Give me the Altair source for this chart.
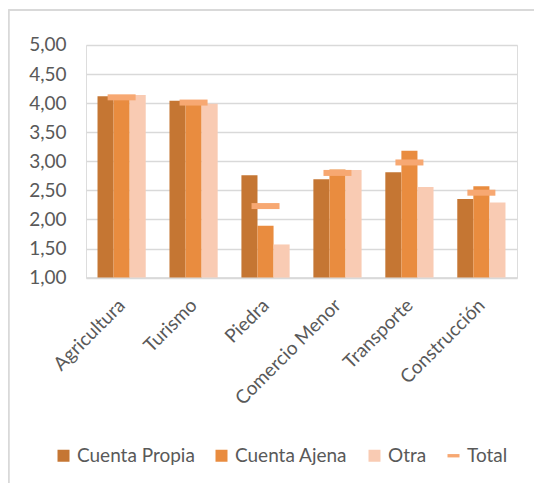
import altair as alt
import pandas as pd

categories = ["Agricultura", "Turismo", "Piedra", "Comercio Menor", "Transporte", "Construcción"]
series = ["Cuenta Propia", "Cuenta Ajena", "Otra"]
cuenta_propia = [4.12, 4.04, 2.76, 2.69, 2.81, 2.35]
cuenta_ajena = [4.10, 4.02, 1.89, 2.86, 3.18, 2.57]
otra = [4.14, 3.99, 1.57, 2.85, 2.56, 2.29]
total = [4.10, 4.01, 2.23, 2.80, 2.98, 2.46]
y_ticks = [1.0, 1.5, 2.0, 2.5, 3.0, 3.5, 4.0, 4.5, 5.0]
colors = ["#C57633", "#E98C3F", "#F9CBB3", "#F7A872"]

rows = []
for i, c in enumerate(categories):
    for s, vals in zip(series, [cuenta_propia, cuenta_ajena, otra]):
        rows.append({"cat": c, "serie": s, "valor": vals[i]})
bars_df = pd.DataFrame(rows)
tot_df = pd.DataFrame({"cat": categories, "serie": ["Total"] * len(categories), "valor": total})

FONT = "Lato"
LABEL = "#595959"
FS = 19
all_series = series + ["Total"]

color_scale = alt.Scale(domain=all_series, range=colors)
shape_scale = alt.Scale(domain=all_series,
                        range=["square", "square", "square", "M-1,-0.28L1,-0.28L1,0.28L-1,0.28Z"])
legend = alt.Legend(
    orient="none", direction="horizontal", title=None, legendX=-32, legendY=401,
    symbolSize=144, symbolStrokeWidth=0, labelFontSize=FS, symbolOpacity=1,
    labelFont=FONT, labelColor=LABEL, columnPadding=17, labelOffset=4, padding=0,
)

x_axis = alt.Axis(labelAngle=-45, labelFontSize=FS, labelFont=FONT, labelColor=LABEL,
                  ticks=False, domainColor="#D9D9D9", domainWidth=1.5, labelPadding=18,
                  labelOffset=-6)
y_axis = alt.Axis(values=y_ticks, labelOverlap=False,
                  labelExpr="replace(format(datum.value, '.2f'), '.', ',')",
                  labelFontSize=FS, labelFont=FONT, labelColor=LABEL, ticks=False,
                  domain=False, gridColor="#D9D9D9", gridWidth=1.5, labelPadding=20)
y_scale = alt.Scale(domain=[1, 5], zero=False, nice=False)
x_scale = alt.Scale(paddingInner=0.33, paddingOuter=0.16)

bars = alt.Chart(bars_df).mark_bar().encode(
    x=alt.X("cat:N", sort=categories, title=None, scale=x_scale, axis=x_axis),
    xOffset=alt.XOffset("serie:N", sort=series, scale=alt.Scale(paddingInner=0, paddingOuter=0)),
    y=alt.Y("valor:Q", scale=y_scale, title=None, axis=y_axis),
    y2=alt.datum(1),
    color=alt.Color("serie:N", scale=color_scale, legend=legend),
)

ticks = alt.Chart(tot_df).mark_tick(size=28, thickness=6, opacity=1).encode(
    x=alt.X("cat:N", sort=categories, title=None, scale=x_scale, axis=x_axis),
    y=alt.Y("valor:Q", scale=y_scale, title=None, axis=y_axis),
    color=alt.Color("serie:N", scale=color_scale, legend=legend),
)

legend_layer = alt.Chart(tot_df).mark_point(filled=True, opacity=1, size=0).encode(
    color=alt.Color("serie:N", scale=color_scale, legend=legend),
    shape=alt.Shape("serie:N", scale=shape_scale, legend=legend),
)

border_top = alt.Chart(tot_df).mark_rule(color="#D9D9D9", strokeWidth=1.5).encode(
    x=alt.value(-77.5), x2=alt.value(470), y=alt.value(-35))
border_left = alt.Chart(tot_df).mark_rule(color="#D9D9D9", strokeWidth=1.5).encode(
    x=alt.value(-77.5), y=alt.value(-35), y2=alt.value(460))

chart = alt.layer(border_top, border_left, bars, ticks, legend_layer).properties(
    width=431, height=232.6,
    autosize=alt.AutoSizeParams(type="none"),
    padding={"left": 78, "top": 37, "right": 17, "bottom": 205},
).configure_view(stroke=None).configure(background="white")

chart.save("out.html", embed_options={"renderer": "svg", "actions": False})
